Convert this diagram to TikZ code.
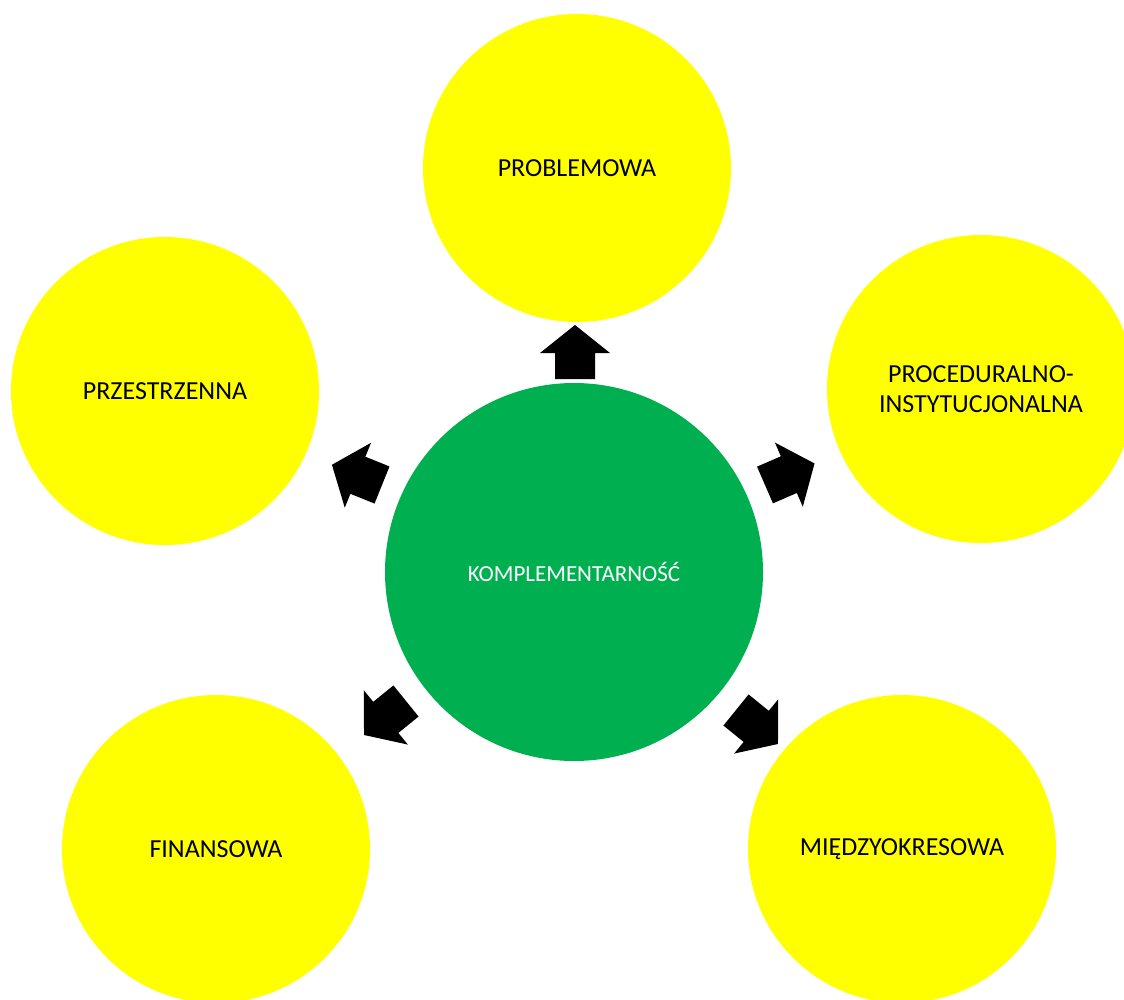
\documentclass[tikz,border=0pt]{standalone}
\usepackage{fontspec}
\setmainfont{Carlito}
\definecolor{circyellow}{HTML}{FFFF00}
\definecolor{circgreen}{HTML}{00B050}
\tikzset{
  outer/.style={circle, fill=circyellow, minimum size=308pt, inner sep=0pt, align=center,
    font=\fontsize{26}{30}\selectfont, text=black},
  core/.style={circle, fill=circgreen, minimum size=378pt, inner sep=0pt,
    font=\fontsize{23}{27}\selectfont, text=white},
  blockarrow/.pic={\fill[black] (0,-20) -- (26,-20) -- (26,-35) -- (54,0) -- (26,35) -- (26,20) -- (0,20) -- cycle;}
}
\begin{document}
\begin{tikzpicture}[x=1pt,y=-1pt]
\clip (0,0) rectangle (1124,999);
\fill[white] (0,0) rectangle (1124,999);
\node[core] (c) at (574,572) {KOMPLEMENTARNOŚĆ};
\node[outer] (top) at (577,168) {PROBLEMOWA};
\node[outer] (left) at (165,391) {PRZESTRZENNA};
\node[outer] (right) at (981,389) {PROCEDURALNO-\\INSTYTUCJONALNA};
\node[outer] (bl) at (216,849) {FINANSOWA};
\node[outer] (br) at (902,849) {MIĘDZYOKRESOWA};
\pic[rotate=90] at (575,379) {blockarrow};
\pic[rotate=158] at (382,485) {blockarrow};
\pic[rotate=23.5] at (765,485) {blockarrow};
\pic[rotate=219] at (406,701) {blockarrow};
\pic[rotate=-39] at (736,710) {blockarrow};
\end{tikzpicture}
\end{document}
